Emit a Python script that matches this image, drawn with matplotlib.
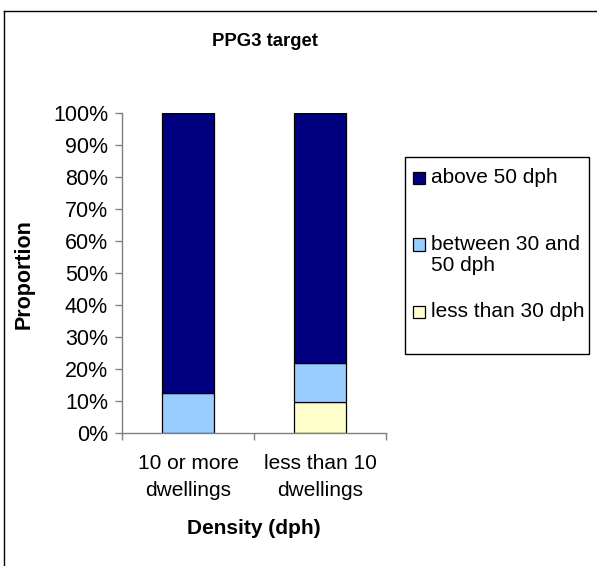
import matplotlib
matplotlib.use("Agg")
import matplotlib.pyplot as plt
from matplotlib.patches import Rectangle
from matplotlib.lines import Line2D
import numpy as np

plt.rcParams['font.family'] = ['Liberation Sans', 'DejaVu Sans']

categories = ["10 or more\ndwellings", "less than 10\ndwellings"]
less_than_30 = [0.0, 9.7]
between_30_50 = [12.3, 12.2]
above_50 = [87.7, 78.1]
series_labels = ["above 50 dph", "between 30 and\n50 dph", "less than 30 dph"]
series_colors = ["#000080", "#99CCFF", "#FFFFCC"]
y_ticks = [0, 10, 20, 30, 40, 50, 60, 70, 80, 90, 100]

W, H = 597, 566
fig = plt.figure(figsize=(W / 100, H / 100), dpi=100)
ax = fig.add_axes([122 / W, 1 - 432.7 / H, (386 - 122) / W, (432.7 - 112.7) / H])

x = np.arange(len(categories))
bw = 0.4
b1 = np.array(less_than_30)
b2 = b1 + np.array(between_30_50)
ax.bar(x, less_than_30, bw, color=series_colors[2], edgecolor="black", linewidth=0.9)
ax.bar(x, between_30_50, bw, bottom=b1, color=series_colors[1], edgecolor="black", linewidth=0.9)
ax.bar(x, above_50, bw, bottom=b2, color=series_colors[0], edgecolor="black", linewidth=0.9)

ax.set_xlim(-0.5, len(categories) - 0.5)
ax.set_ylim(0, 100)
ax.set_yticks(y_ticks)
ax.set_yticklabels([f"{t}%" for t in y_ticks], fontsize=15.5)
ax.set_xticks(np.arange(len(categories) + 1) - 0.5)
ax.set_xticklabels([])
ax.set_xticks(x, minor=True)
ax.set_xticklabels(categories, minor=True, fontsize=15, linespacing=1.5)
ax.tick_params(axis='x', which='minor', length=0, pad=15.5)
ax.tick_params(axis='x', which='major', length=5, color="#808080", width=1)
ax.tick_params(axis='y', length=5, color="#808080", width=1, pad=5)
for s in ["top", "right"]:
    ax.spines[s].set_visible(False)
for s in ["left", "bottom"]:
    ax.spines[s].set_color("#808080")
    ax.spines[s].set_linewidth(1)

fig.text(265 / W, 1 - 42 / H, "PPG3 target", ha="center", va="center", fontsize=13.3, fontweight="bold")
fig.text(254 / W, 1 - 528 / H, "Density (dph)", ha="center", va="center", fontsize=15, fontweight="bold")
fig.text(24 / W, 1 - 274 / H, "Proportion", ha="center", va="center", rotation=90, fontsize=15.5, fontweight="bold")

# outer chart border
fig.add_artist(Line2D([4 / W, 4 / W], [-0.05, 1 - 10.5 / H], transform=fig.transFigure, color="black", lw=1))
fig.add_artist(Line2D([4 / W, 1.05], [1 - 10.5 / H, 1 - 10.5 / H], transform=fig.transFigure, color="black", lw=1))

# legend box
lx0, ly0, lx1, ly1 = 405, 157, 589, 354
fig.add_artist(Rectangle((lx0 / W, 1 - ly1 / H), (lx1 - lx0) / W, (ly1 - ly0) / H,
                         transform=fig.transFigure, facecolor="white", edgecolor="black", lw=1))
entry_y = [178, 245, 312]
for lab, col, yy in zip(series_labels, series_colors, entry_y):
    fig.add_artist(Rectangle((413 / W, 1 - (yy + 5.5) / H), 12 / W, 12 / H,
                             transform=fig.transFigure, facecolor=col, edgecolor="black", lw=0.9))
    fig.text(431 / W, 1 - (yy - 10) / H, lab, ha="left", va="top", fontsize=15, linespacing=1.1)

fig.savefig("out.png", dpi=100)
